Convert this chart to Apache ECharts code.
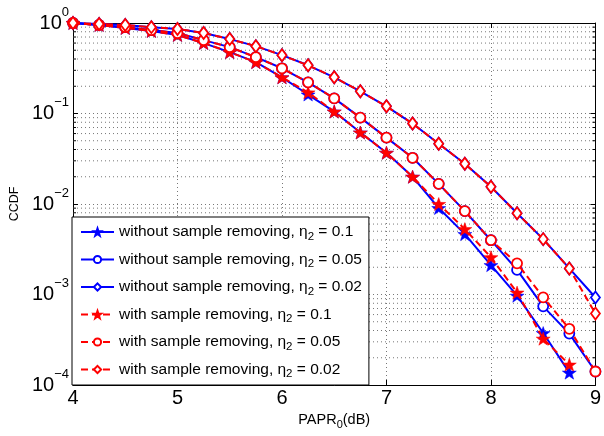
<!DOCTYPE html>
<html>
<head>
<meta charset="utf-8">
<script src="https://cdn.jsdelivr.net/npm/echarts@6/dist/echarts.min.js"></script>
<style>html,body{margin:0;padding:0;background:#fff}#c{width:604px;height:436px}</style>
</head>
<body>
<div id="c"></div>
<script>
const xVals = [4,4.25,4.5,4.75,5,5.25,5.5,5.75,6,6.25,6.5,6.75,7,7.25,7.5,7.75,8,8.25,8.5,8.75,9];
const starBlue = [1.0,0.95,0.88,0.815,0.736,0.60,0.476,0.369,0.251,0.162,0.105,0.0616,0.0368,0.0200,0.00902,0.00465,0.00211,0.00097,0.000375,0.000137];
const starRed = [1.0,0.95,0.88,0.815,0.736,0.60,0.476,0.369,0.251,0.171,0.105,0.0616,0.0368,0.0200,0.0100,0.00528,0.00258,0.00105,0.000325,0.000168];
const circleBlue = [1.0,0.95,0.90,0.836,0.774,0.647,0.541,0.419,0.316,0.221,0.147,0.0901,0.0541,0.0324,0.0167,0.00835,0.00398,0.00187,0.00074,0.00037,0.000141];
const circleRed = [1.0,0.95,0.90,0.836,0.774,0.647,0.541,0.419,0.316,0.221,0.147,0.0901,0.0541,0.0324,0.0167,0.00835,0.00398,0.00221,0.00093,0.000418,0.000141];
const diamondBlue = [1.0,0.975,0.95,0.90,0.86,0.774,0.664,0.555,0.441,0.341,0.251,0.176,0.120,0.0774,0.0464,0.0278,0.0155,0.0079,0.00409,0.00194,0.000926];
const diamondRed = [1.0,0.975,0.95,0.90,0.86,0.774,0.664,0.555,0.441,0.341,0.251,0.176,0.120,0.0774,0.0464,0.0278,0.0155,0.0079,0.00409,0.00194,0.000615];
const seriesNames = [
  'without sample removing, η2 = 0.1',
  'without sample removing, η2 = 0.05',
  'without sample removing, η2 = 0.02',
  'with sample removing, η2 = 0.1',
  'with sample removing, η2 = 0.05',
  'with sample removing, η2 = 0.02'
];
const xTicks = [4,5,6,7,8,9];
const yExponents = [0,-1,-2,-3,-4];

const FONT = '"Liberation Sans", Arial, Helvetica, sans-serif';
const STAR = 'path://M0,-10L2.35,-3.24L9.51,-3.09L3.8,1.24L5.88,8.09L0,4L-5.88,8.09L-3.8,1.24L-9.51,-3.09L-2.35,-3.24Z';

function pairs(ys){ return ys.map((y,i)=>[xVals[i], y]); }

const minorVals = [];
for (let e = -4; e < 0; e++) for (let m = 2; m <= 9; m++) minorVals.push(m * Math.pow(10, e));

function mkSeries(name, ys, color, dashed, symbol, size, filled, z){
  return {
    name: name, type: 'line', data: pairs(ys), z: z,
    symbol: symbol, symbolSize: size, showSymbol: true,
    lineStyle: {color: color, width: 2, type: dashed ? [7,4] : 'solid'},
    itemStyle: {color: filled ? color : '#fff', borderColor: color, borderWidth: filled ? 0.5 : 1.8},
    emphasis: {disabled: true},
    animation: false
  };
}
const BLUE = '#0000ff', RED = '#ff0000';

const chart = echarts.init(document.getElementById('c'), null, {renderer: 'canvas'});
chart.setOption({
  animation: false,
  backgroundColor: '#fff',
  textStyle: {fontFamily: FONT},
  grid: {left: 73, right: 5, top: 23, bottom: 51, containLabel: false},
  xAxis: [{
    type: 'value', min: 4, max: 9, interval: 1, position: 'bottom',
    name: '{a|PAPR}{s|0}{a|(dB)}', nameLocation: 'middle', nameGap: 25,
    nameTextStyle: {rich: {a: {fontSize: 14.5, fontFamily: FONT, color: '#000'}, s: {fontSize: 11, fontFamily: FONT, color: '#000', padding: [9,0,0,0]}}},
    axisLine: {show: true, onZero: false, lineStyle: {color: '#000', width: 1}},
    axisTick: {show: true, inside: true, length: 5, lineStyle: {color: '#000'}},
    axisLabel: {fontSize: 20, color: '#000', margin: 3, fontFamily: FONT,
      formatter: v => xTicks.indexOf(v) >= 0 ? String(v) : ''},
    splitLine: {show: true, lineStyle: {color: '#777', type: [1,3], width: 1}}
  },{
    type: 'value', min: 4, max: 9, interval: 1, position: 'top',
    axisLine: {show: true, onZero: false, lineStyle: {color: '#000', width: 1}},
    axisTick: {show: true, inside: true, length: 5, lineStyle: {color: '#000'}},
    axisLabel: {show: false}, splitLine: {show: false}
  }],
  yAxis: [{
    type: 'log', logBase: 10, min: 0.0001, max: 1, position: 'left',
    name: 'CCDF', nameLocation: 'middle', nameGap: 52,
    nameTextStyle: {fontSize: 12.5, color: '#000', fontFamily: FONT},
    axisLine: {show: true, onZero: false, lineStyle: {color: '#000', width: 1}},
    axisTick: {show: true, inside: true, length: 5, lineStyle: {color: '#000'}},
    axisLabel: {margin: 4, color: '#000', fontFamily: FONT,
      formatter: v => {
        const e = Math.round(Math.log10(v));
        if (yExponents.indexOf(e) < 0) return '';
        return '{b|10}{sup|' + (e < 0 ? '\u2212' + (-e) : e) + '}';
      },
      rich: {b: {fontSize: 20, fontFamily: FONT, color: '#000'},
             sup: {fontSize: 13, fontFamily: FONT, color: '#000', padding: [0,0,22,0]}}},
    splitLine: {show: true, lineStyle: {color: '#777', type: [1,3], width: 1}}
  },{
    type: 'log', logBase: 10, min: 0.0001, max: 1, position: 'right',
    axisLine: {show: true, onZero: false, lineStyle: {color: '#000', width: 1}},
    axisTick: {show: true, inside: true, length: 5, lineStyle: {color: '#000'}},
    axisLabel: {show: false}, splitLine: {show: false}
  }],
  legend: {
    orient: 'vertical', left: 72, top: 217,
    backgroundColor: '#fff', borderColor: '#000', borderWidth: 1,
    padding: [7, 7, 5, 8], itemGap: 9, itemWidth: 33, itemHeight: 9,
    data: seriesNames,
    formatter: name => {
      const m = name.split('η2');
      return m[0] + '{e|η}{s|2}' + m[1];
    },
    textStyle: {fontSize: 15.5, color: '#000', fontFamily: FONT,
      rich: {e: {fontSize: 15.5, fontFamily: FONT, color: '#000'},
             s: {fontSize: 11.5, fontFamily: FONT, color: '#000', padding: [9,0,0,0]}}}
  },
  series: [
    {
      type: 'custom', silent: true, z: 1, xAxisIndex: 0, yAxisIndex: 0,
      data: minorVals.map(v => [v]),
      renderItem: (params, api) => {
        const v = api.value(0);
        const p1 = api.coord([4, v]), p2 = api.coord([9, v]);
        return {type: 'group', children: [
          {type: 'line', shape: {x1: p1[0], y1: p1[1], x2: p2[0], y2: p2[1]},
           style: {stroke: '#777', lineWidth: 1, lineDash: [1,3]}},
          {type: 'line', shape: {x1: p1[0], y1: p1[1], x2: p1[0] + 3, y2: p1[1]},
           style: {stroke: '#000', lineWidth: 1}},
          {type: 'line', shape: {x1: p2[0], y1: p2[1], x2: p2[0] - 3, y2: p2[1]},
           style: {stroke: '#000', lineWidth: 1}}
        ]};
      },
      encode: {y: 0}, animation: false
    },
    mkSeries(seriesNames[0], starBlue, BLUE, false, STAR, [14,13], true, 3),
    mkSeries(seriesNames[1], circleBlue, BLUE, false, 'circle', 10, false, 3),
    mkSeries(seriesNames[2], diamondBlue, BLUE, false, 'diamond', [9,12], false, 3),
    mkSeries(seriesNames[3], starRed, RED, true, STAR, [14,13], true, 4),
    mkSeries(seriesNames[4], circleRed, RED, true, 'circle', 10, false, 4),
    mkSeries(seriesNames[5], diamondRed, RED, true, 'diamond', [9,12], false, 4)
  ]
});
</script>
</body>
</html>
